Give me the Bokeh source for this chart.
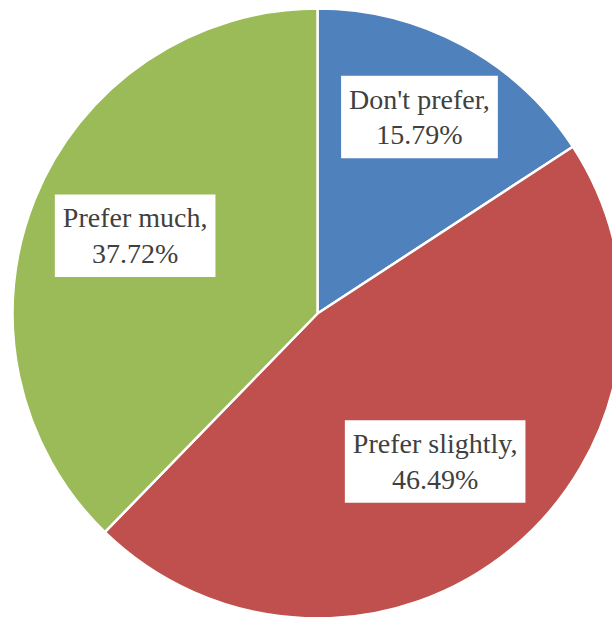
import numpy as np
from bokeh.plotting import figure
from bokeh.models import ColumnDataSource, Range1d
from bokeh.core.properties import value
from bokeh.embed import file_html
from bokeh.resources import INLINE

categories = ["Don't prefer", "Prefer slightly", "Prefer much"]
percents = [15.79, 46.49, 37.72]
colors = ["#4F81BD", "#C0504D", "#9BBB59"]

W, H = 612, 617
CX, CY, R = 317, 617 - 313, 305

fr = np.array(percents) / 100.0
cum = np.concatenate([[0], np.cumsum(fr)])
start = np.pi / 2 - cum[:-1] * 2 * np.pi
end = np.pi / 2 - cum[1:] * 2 * np.pi
mid = (start + end) / 2

# label placement (layout): radial distance fraction and angle nudge per slice
label_rfrac = [0.726, 0.62, 0.65]
label_angle_nudge = np.radians([1, -1, -1])
la = mid + label_angle_nudge
lx = CX + np.array(label_rfrac) * R * np.cos(la)
ly = CY + np.array(label_rfrac) * R * np.sin(la)

texts = [f"{c},\n{p:.2f}%" for c, p in zip(categories, percents)]

src = ColumnDataSource(dict(start=start, end=end, color=colors, cat=categories))
lsrc = ColumnDataSource(dict(x=lx, y=ly, text=texts))

p = figure(width=W, height=H, output_backend="svg", toolbar_location=None,
           x_range=Range1d(0, W), y_range=Range1d(0, H), min_border=0)
p.axis.visible = False
p.grid.visible = False
p.outline_line_color = None
p.background_fill_color = "white"
p.border_fill_color = "white"

p.wedge(x=CX, y=CY, radius=R, start_angle="start", end_angle="end",
        direction="clock", fill_color="color", line_color="white",
        line_width=2.5, source=src)

p.text(x="x", y="y", text="text", source=lsrc,
       text_align="center", text_baseline="middle",
       text_font=value("Liberation Serif"),
       text_font_size="28px",
       text_color="#404040", text_line_height=1.15,
       background_fill_color="white", background_fill_alpha=1.0,
       padding=8)

open("out.html", "w").write(file_html(p, INLINE))
